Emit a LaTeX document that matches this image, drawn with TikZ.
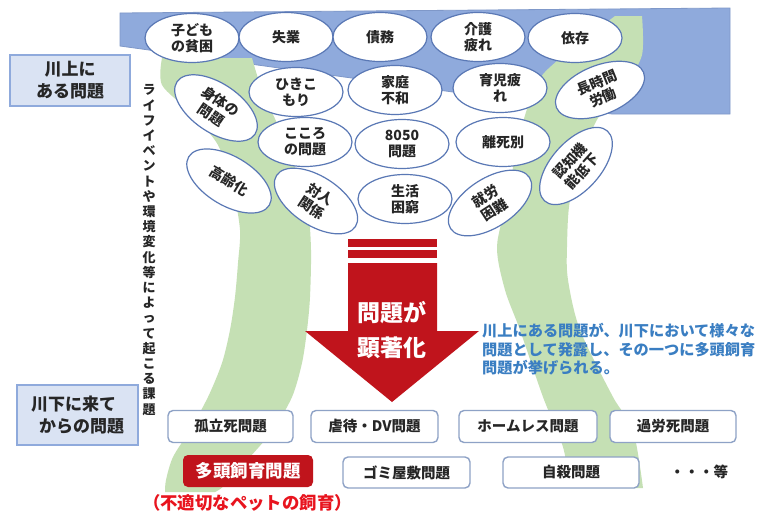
\documentclass[tikz,border=0pt]{standalone}
\usepackage{fontspec}
\setmainfont{Noto Sans CJK JP}
\usetikzlibrary{shapes.geometric}
\definecolor{bandblue}{HTML}{8FAADC}
\definecolor{bandblueline}{HTML}{7F98C9}
\definecolor{rivergreen}{HTML}{C5E0B4}
\definecolor{ellline}{HTML}{5A78B5}
\definecolor{boxline}{HTML}{8EA2C6}
\definecolor{labelfill}{HTML}{DAE3F3}
\definecolor{labelline}{HTML}{8FAADC}
\definecolor{arrowred}{HTML}{C0141C}
\definecolor{notered}{HTML}{E8141E}
\definecolor{noteblue}{HTML}{3A7EC2}
\definecolor{txt}{HTML}{262626}
\begin{document}
\begin{tikzpicture}[x=1pt,y=-1pt,
 issue/.style={ellipse,draw=ellline,line width=1.2pt,fill=white,minimum width=94pt,minimum height=49pt,inner sep=0pt,align=center,text=txt,font=\bfseries\fontsize{14}{16}\selectfont},
 result/.style={rectangle,rounded corners=5pt,draw=boxline,line width=1.4pt,fill=white,minimum height=32pt,inner sep=0pt,text=txt,font=\bfseries\fontsize{14.5}{16}\selectfont},
 sidelabel/.style={rectangle,draw=labelline,fill=labelfill,line width=1.2pt,align=center,inner sep=0pt,text=txt,font=\bfseries\fontsize{17}{22}\selectfont},
]
\useasboundingbox (0,0) rectangle (774,514);
\fill[white] (0,0) rectangle (774,514);

% blue upstream band
\filldraw[fill=bandblue,draw=bandblueline,line width=0.8pt]
  (120,13) -- (730,8) -- (730,114) -- (612,114) -- (120,46) -- cycle;

% green river banks
\fill[rivergreen] plot[smooth] coordinates {(162,58) (162,85) (190,112) (218,145) (233,190) (240,230) (238,263) (235,297) (230,330) (222,363) (208,397) (190,430) (173,457) (166,480) (165,492)}
  -- plot[smooth] coordinates {(215,492) (225,485) (250,457) (273,430) (292,397) (302,363) (307,330) (310,297) (311,250) (308,210) (298,175) (280,130) (262,90) (252,58)} -- cycle;
\fill[rivergreen] plot[smooth] coordinates {(615,16) (590,35) (558,60) (537,83) (520,133) (507,200) (497,247) (505,290) (520,330) (543,397) (563,447) (570,488)}
  -- plot[smooth] coordinates {(643,488) (633,430) (613,397) (580,330) (568,280) (567,247) (570,200) (585,150) (598,118) (625,85) (642,55) (642,16)} -- cycle;

% side labels
\node[sidelabel,minimum width=120pt,minimum height=51pt] (upstream) at (70,80.5) {川上に\\ある問題};
\node[sidelabel,minimum width=121pt,minimum height=60pt,align=left] (downstream) at (77.5,415) {川下に来て\\\hspace*{8pt}からの問題};

% vertical text
\node[inner sep=0pt,align=center,text=txt,font=\bfseries\fontsize{13}{15.2}\selectfont] (lifeevents) at (149,250)
 {ラ\\イ\\フ\\イ\\ベ\\ン\\ト\\や\\環\\境\\変\\化\\等\\に\\よ\\っ\\て\\起\\こ\\る\\課\\題};

% issues (ellipses)
\node[issue] (kodomo) at (192,38) {子ども\\の貧困};
\node[issue] (shitsugyo) at (286,37) {失業};
\node[issue] (saimu) at (380,37) {債務};
\node[issue] (kaigo) at (478,37) {介護\\疲れ};
\node[issue] (izon) at (575,38) {依存};

\node[issue] (hikikomori) at (296,92) {ひきこ\\もり};
\node[issue] (katei) at (395,90) {家庭\\不和};
\node[issue] (ikuji) at (500,88) {育児疲\\れ};
\node[issue,rotate=22] (choujikan) at (600,90) {長時間\\労働};
\node[issue,rotate=-34] (shintai) at (216,108) {身体の\\問題};

\node[issue] (kokoro) at (305,142) {こころ\\の問題};
\node[issue] (p8050) at (402,144) {8050\\問題};
\node[issue] (rishi) at (503,142) {離死別};
\node[issue,rotate=48] (ninchi) at (576,166) {認知機\\能低下};

\node[issue,rotate=-31] (koureika) at (229,181) {高齢化};
\node[issue,rotate=-33] (taijin) at (316,201) {対人\\関係};
\node[issue] (seikatsu) at (405,199) {生活\\困窮};
\node[issue,rotate=33] (shurou) at (490,203) {就労\\困難};

% red arrow
\fill[arrowred] (348,239) rectangle (437,247);
\fill[arrowred] (348,250) rectangle (437,258);
\fill[arrowred] (348,263) -- (437,263) -- (437,331) -- (479,331) -- (392,402) -- (305,331) -- (348,331) -- cycle;
\node[text=white,font=\bfseries\fontsize{23}{35}\selectfont,align=center,inner sep=0pt] (kencho) at (392,330) {問題が\\顕著化};

% note
\node[anchor=north west,align=left,inner sep=0pt,text=noteblue,font=\bfseries\fontsize{15.2}{18.5}\selectfont] (note) at (482,323)
 {川上にある問題が、川下において様々な\\問題として発露し、その一つに多頭飼育\\問題が挙げられる。};

% results
\node[result,minimum width=125pt] (koritsu) at (230.5,426.5) {孤立死問題};
\node[result,minimum width=127pt] (gyakutai) at (374.5,426.5) {虐待・DV問題};
\node[result,minimum width=138pt] (homeless) at (528,426.5) {ホームレス問題};
\node[result,minimum width=126pt] (karoushi) at (673,426.5) {過労死問題};
\node[rectangle,rounded corners=5pt,fill=arrowred,minimum width=130pt,minimum height=32pt,inner sep=0pt,text=white,font=\bfseries\fontsize{17.5}{20}\selectfont] (tatou) at (248,471) {多頭飼育問題};
\node[result,minimum width=127pt,minimum height=31pt] (gomi) at (406.5,472.5) {ゴミ屋敷問題};
\node[result,minimum width=136pt,minimum height=31pt] (jisatsu) at (571,472.5) {自殺問題};
\node[inner sep=0pt,text=txt,font=\bfseries\fontsize{14.5}{16}\selectfont] (etc) at (699,472) {・・・等};
\node[inner sep=0pt,text=notered,font=\bfseries\fontsize{17.4}{20}\selectfont] (petnote) at (247.5,503) {（不適切なペットの飼育）};
\end{tikzpicture}
\end{document}
